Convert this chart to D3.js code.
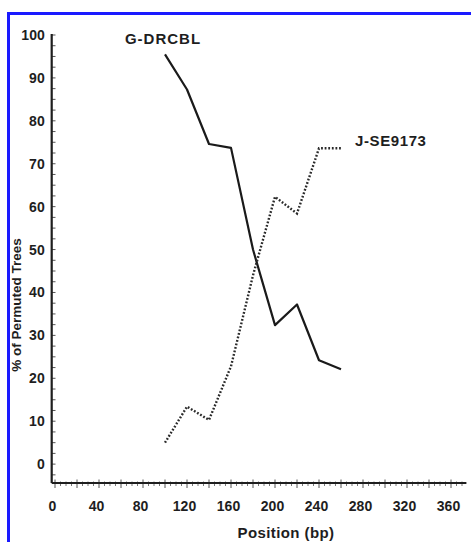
<!DOCTYPE html>
<html>
<head>
<meta charset="utf-8">
<script src="https://cdn.jsdelivr.net/npm/d3@7"></script>
<style>
  html, body { margin: 0; padding: 0; background: #fff; }
  svg { display: block; }
  text { font-family: "Liberation Sans", Arial, sans-serif; fill: #1e1e1e; font-weight: bold; }
</style>
</head>
<body>
<svg id="chart" width="471" height="542"></svg>
<script>
// ---- data ----
const positions = [100, 120, 140, 160, 180, 200, 220, 240, 260];
const seriesNames = ["G-DRCBL", "J-SE9173"];
const gdrcbl = [95.5, 87.3, 74.6, 73.7, 50, 32.4, 37.2, 24.2, 22.1];
const jse9173 = [5, 13.4, 10.3, 22.8, 44, 62.3, 58.4, 73.6, 73.6];
const xTickValues = [0, 40, 80, 120, 160, 200, 240, 280, 320, 360];
const yTickValues = [0, 10, 20, 30, 40, 50, 60, 70, 80, 90, 100];
const xTitle = "Position (bp)";
const yTitle = "% of Permuted Trees";

// ---- drawing ----
const svg = d3.select("#chart");
svg.append("rect").attr("width", 471).attr("height", 542).attr("fill", "#fff");

// blue frame (cut off at right/bottom in the reference)
svg.append("rect")
  .attr("x", 8.5).attr("y", 13.5)
  .attr("width", 470).attr("height", 540)
  .attr("fill", "none").attr("stroke", "#1a1aff").attr("stroke-width", 3);

const x = d3.scaleLinear().domain([-3, 374]).range([51.7, 466.4]);
const y = d3.scaleLinear().domain([-4.4, 100]).range([483, 35]);

const ink = "#1e1e1e";

// minor ticks on x axis
const xMinor = d3.range(0, 371, 5);
svg.append("g").selectAll("line").data(xMinor).join("line")
  .attr("x1", d => x(d)).attr("x2", d => x(d))
  .attr("y1", d => d % 20 === 0 ? 479.5 : 481.5)
  .attr("y2", d => d % 20 === 0 ? 488 : 486)
  .attr("stroke", d => d % 20 === 0 ? "#555" : "#777")
  .attr("stroke-width", 1);

// minor ticks on y axis
const yMinor = d3.range(-2.5, 100.1, 2.5);
svg.append("g").selectAll("line").data(yMinor).join("line")
  .attr("x1", 52).attr("x2", 55.5)
  .attr("y1", d => y(d)).attr("y2", d => y(d))
  .attr("stroke", "#555").attr("stroke-width", 1);

// axis lines
svg.append("line")
  .attr("x1", x(-3)).attr("x2", x(374))
  .attr("y1", y(-4.4)).attr("y2", y(-4.4))
  .attr("stroke", ink).attr("stroke-width", 2.2);
svg.append("line")
  .attr("x1", x(-3)).attr("x2", x(-3))
  .attr("y1", y(100) - 1).attr("y2", y(-4.4))
  .attr("stroke", ink).attr("stroke-width", 2.2);

// axes labels via d3 axes
const yAxis = svg.append("g")
  .attr("transform", `translate(${x(-3)},0)`)
  .call(d3.axisLeft(y).tickValues(yTickValues).tickSize(0).tickPadding(7));
yAxis.select(".domain").remove();
yAxis.selectAll("text")
  .style("font-family", '"Liberation Sans", Arial, sans-serif')
  .style("font-weight", "bold")
  .style("font-size", "14px").attr("fill", "#262626");

const xAxis = svg.append("g")
  .attr("transform", `translate(0,${y(-4.4)})`)
  .call(d3.axisBottom(x).tickValues(xTickValues).tickSize(0).tickPadding(18));
xAxis.select(".domain").remove();
xAxis.selectAll("text")
  .attr("dx", -3)
  .style("font-family", '"Liberation Sans", Arial, sans-serif')
  .style("font-weight", "bold")
  .style("font-size", "14px").attr("fill", "#262626");

// titles
svg.append("text")
  .attr("x", 286).attr("y", 538)
  .attr("text-anchor", "middle")
  .style("font-size", "15px")
  .style("letter-spacing", "0.4px")
  .text(xTitle);

svg.append("text")
  .attr("transform", "translate(21,305) rotate(-90)")
  .attr("text-anchor", "middle")
  .style("font-size", "13.5px")
  .text(yTitle);

// series
const line = d3.line().x((d, i) => x(positions[i])).y(d => y(d));

svg.append("path")
  .datum(gdrcbl)
  .attr("d", line)
  .attr("fill", "none")
  .attr("stroke", "#1a1a1a")
  .attr("stroke-width", 2.2)
  .attr("stroke-linejoin", "round");

svg.append("path")
  .datum(jse9173)
  .attr("d", line)
  .attr("fill", "none")
  .attr("stroke", "#2a2a2a")
  .attr("stroke-width", 2.4)
  .attr("stroke-dasharray", "1.8,1.8");

// series labels
svg.append("text")
  .attr("x", x(positions[0]) - 2).attr("y", 44)
  .attr("text-anchor", "middle")
  .style("font-size", "15px")
  .style("letter-spacing", "1px")
  .text(seriesNames[0]);

svg.append("text")
  .attr("x", 355).attr("y", y(jse9173[jse9173.length - 1]) - 2)
  .attr("text-anchor", "start")
  .style("font-size", "15px")
  .style("letter-spacing", "0.6px")
  .text(seriesNames[1]);
</script>
</body>
</html>
